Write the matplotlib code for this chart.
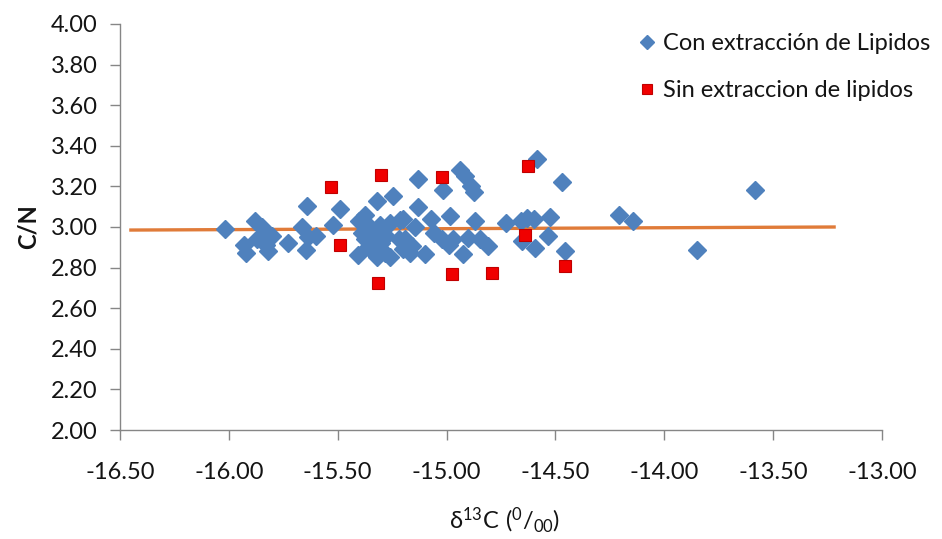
import numpy as np
import matplotlib
matplotlib.use("Agg")
import matplotlib.pyplot as plt

plt.rcParams['font.family'] = ['Lato', 'DejaVu Sans']

# Con extracción de Lipidos (blue diamonds)
blue_x = [-16.02, -15.93, -15.92, -15.88, -15.85, -15.87, -15.83, -15.82, -15.80, -15.73,
          -15.665, -15.64, -15.635, -15.645, -15.60, -15.52, -15.49,
          -15.40, -15.375, -15.32, -15.245, -15.405, -15.375, -15.345, -15.32, -15.285,
          -15.26, -15.28, -15.305, -15.26, -15.215, -15.22, -15.335, -15.36, -15.30,
          -15.35, -15.39,
          -15.13, -15.13, -15.20, -15.145, -15.19, -15.16, -15.20, -15.17, -15.10,
          -15.07, -15.06, -15.02, -14.985, -15.015, -14.94, -14.915, -14.89, -14.875,
          -14.97, -14.99, -14.925, -14.90, -14.87, -14.845, -14.81,
          -14.725, -14.66, -14.63, -14.60, -14.525, -14.655, -14.595, -14.535, -14.455,
          -14.585, -14.47, -14.21, -14.145, -13.85, -13.585]
blue_y = [2.99, 2.91, 2.87, 3.03, 3.00, 2.94, 2.91, 2.88, 2.955, 2.92,
          3.00, 3.105, 2.95, 2.885, 2.955, 3.01, 3.09,
          3.03, 3.06, 3.13, 3.155, 2.86, 2.94, 2.89, 2.85, 2.87,
          2.85, 2.955, 3.01, 3.02, 3.035, 2.94, 2.97, 2.90, 2.92,
          3.00, 2.97,
          3.235, 3.10, 3.04, 3.00, 2.94, 2.905, 2.89, 2.87, 2.865,
          3.04, 2.97, 2.94, 3.055, 3.18, 3.28, 3.25, 3.20, 3.17,
          2.94, 2.91, 2.865, 2.945, 3.03, 2.94, 2.905,
          3.02, 3.03, 3.045, 3.04, 3.05, 2.93, 2.895, 2.955, 2.88,
          3.335, 3.22, 3.06, 3.03, 2.885, 3.18]

# Sin extraccion de lipidos (red squares)
red_x = [-15.53, -15.49, -15.30, -15.315, -15.02, -14.977, -14.793, -14.625, -14.64, -14.455]
red_y = [3.195, 2.91, 3.255, 2.725, 3.245, 2.77, 2.775, 3.30, 2.96, 2.81]

# Linear trend line (endpoints)
trend_x = [-16.45, -13.22]
trend_y = [2.985, 3.000]

x_ticks = [-16.5, -16.0, -15.5, -15.0, -14.5, -14.0, -13.5, -13.0]
y_ticks = [2.0, 2.2, 2.4, 2.6, 2.8, 3.0, 3.2, 3.4, 3.6, 3.8, 4.0]

TXT = '#141414'
FS = 17

fig = plt.figure(figsize=(9.42, 5.39), dpi=100)
ax = fig.add_axes([0.1274, 0.2022, 0.9363 - 0.1274, 0.9555 - 0.2022])

ax.plot(trend_x, trend_y, color='#E07B39', linewidth=2.4, zorder=2)
ax.plot(blue_x, blue_y, linestyle='none', marker='D', markersize=9.2,
        color='#4F81BD', markeredgecolor='#4F81BD', label='Con extracción de Lipidos', zorder=3)
ax.plot(red_x, red_y, linestyle='none', marker='s', markersize=9.2,
        color='#F00000', markeredgecolor='#C00000', markeredgewidth=0.8,
        label='Sin extraccion de lipidos', zorder=4)

ax.set_xlim(-16.5, -13.0)
ax.set_ylim(2.0, 4.0)
ax.set_xticks(x_ticks)
ax.set_xticklabels([f'{v:.2f}' for v in x_ticks])
ax.set_yticks(y_ticks)
ax.set_yticklabels([f'{v:.2f}' for v in y_ticks])

for s in ['top', 'right']:
    ax.spines[s].set_visible(False)
for s in ['left', 'bottom']:
    ax.spines[s].set_color('#868686')
    ax.spines[s].set_linewidth(1.0)
ax.tick_params(axis='both', direction='out', length=7, width=1.0, color='#868686',
               labelsize=FS, labelcolor=TXT)
ax.tick_params(axis='y', pad=9)
ax.tick_params(axis='x', pad=16)

ax.set_ylabel('C/N', fontsize=FS, fontweight='bold', color=TXT, labelpad=8)
fig.text(0.536, 0.035, r'$\mathregular{\delta^{13}C\ (^{0}/_{00})}$', fontsize=FS,
         ha='center', va='center', color=TXT)

leg = fig.legend(loc='upper left', bbox_to_anchor=(0.664, 0.956), frameon=False,
                 fontsize=FS, labelspacing=1.1, handletextpad=0.2, handlelength=1.0,
                 borderaxespad=0, markerscale=0.75)
for t in leg.get_texts():
    t.set_color(TXT)

fig.savefig('out.png', dpi=100)
